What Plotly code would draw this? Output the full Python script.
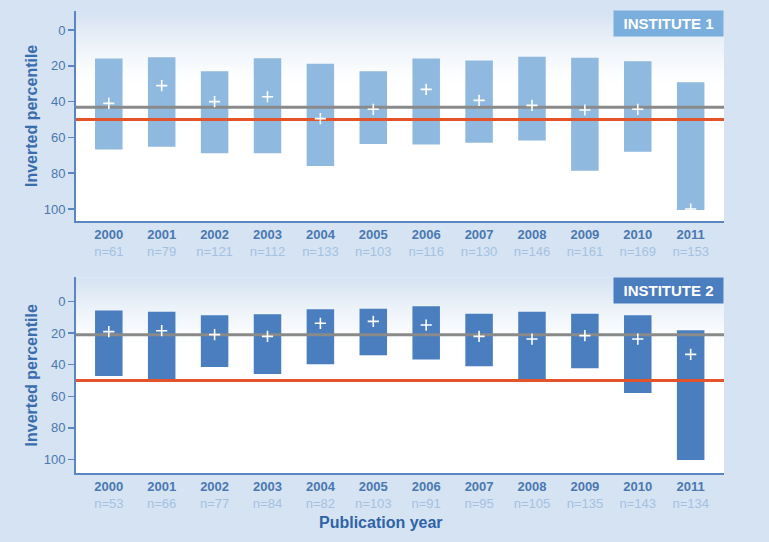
import plotly.graph_objects as go

years = ["2000", "2001", "2002", "2003", "2004", "2005", "2006", "2007", "2008", "2009", "2010", "2011"]

# Institute 1
n1 = [61, 79, 121, 112, 133, 103, 116, 130, 146, 161, 169, 153]
top1 = [16.0, 15.3, 23.1, 15.8, 18.8, 23.1, 16.0, 17.0, 14.9, 15.5, 17.5, 29.2]
bottom1 = [66.7, 65.2, 68.9, 68.9, 76.0, 63.7, 64.0, 63.0, 61.8, 78.6, 68.0, 100.6]
mean1 = [41.0, 31.1, 40.0, 37.3, 49.5, 44.3, 33.2, 39.3, 42.1, 44.7, 44.3, 100.0]
overall1 = 43.2

# Institute 2
n2 = [53, 66, 77, 84, 82, 103, 91, 95, 105, 135, 143, 134]
top2 = [5.5, 6.3, 8.6, 8.0, 4.8, 4.4, 2.9, 7.6, 6.3, 7.6, 8.6, 18.1]
bottom2 = [47.1, 49.3, 41.4, 45.9, 39.7, 34.0, 36.6, 41.0, 49.0, 42.3, 57.9, 100.4]
mean2 = [19.0, 18.4, 20.9, 22.0, 13.7, 12.5, 14.8, 22.0, 23.7, 21.5, 23.7, 33.4]
overall2 = 20.9

reference = 50
yticks = [0, 20, 40, 60, 80, 100]

W, H = 769, 542
FONT = "Liberation Sans, Arial, sans-serif"
AXIS_COLOR = "#5a86c2"
TICK_COLOR = "#4a78b3"
N_COLOR = "#a3c2e3"
GREY = "#8a8a8a"
RED = "#e5532b"

def px(x):
    return x / W

def py(y):
    return 1 - y / H

fig = go.Figure()

panels = [
    dict(xa="x", ya="y", top=top1, bottom=bottom1, mean=mean1, n=n1, overall=overall1,
         color="#8fb9df", label="INSTITUTE 1", labcolor="#7aaedc",
         dom=(py(221), py(11)), rng=[106.7, -10.6], ytop=11, ybot=221),
    dict(xa="x2", ya="y2", top=top2, bottom=bottom2, mean=mean2, n=n2, overall=overall2,
         color="#4a7ebf", label="INSTITUTE 2", labcolor="#4a7ebf",
         dom=(py(473.3), py(277.3)), rng=[108.9, -15.5], ytop=277.5, ybot=473.3),
]

xidx = list(range(len(years)))

for i, p in enumerate(panels):
    heights = [b - t for t, b in zip(p["top"], p["bottom"])]
    # reference lines
    fig.add_trace(go.Scatter(
        x=[-0.62, 11.63], y=[p["overall"]] * 2, mode="lines",
        line=dict(color=GREY, width=3), xaxis=p["xa"], yaxis=p["ya"],
        showlegend=False, hoverinfo="skip"))
    fig.add_trace(go.Scatter(
        x=[-0.62, 11.63], y=[reference] * 2, mode="lines",
        line=dict(color=RED, width=3), xaxis=p["xa"], yaxis=p["ya"],
        showlegend=False, hoverinfo="skip"))
    fig.add_trace(go.Bar(
        x=xidx, y=heights, base=p["top"], width=0.52,
        marker=dict(color=p["color"], line=dict(width=0)),
        xaxis=p["xa"], yaxis=p["ya"], showlegend=False, hoverinfo="skip"))
    fig.add_trace(go.Scatter(
        x=xidx, y=p["mean"], mode="markers",
        marker=dict(symbol="cross-thin", size=8, line=dict(color="white", width=1.6)),
        xaxis=p["xa"], yaxis=p["ya"], showlegend=False, hoverinfo="skip"))

    ticktext = [f"<b>{yr}</b><br><span style='color:{N_COLOR}'>n={n}</span>" for yr, n in zip(years, p["n"])]
    suffix = "" if i == 0 else "2"
    fig.layout["xaxis" + suffix] = dict(
        domain=[px(76), px(724)], range=[-0.62, 11.63], anchor="y" + suffix,
        tickmode="array", tickvals=xidx, ticktext=ticktext,
        tickfont=dict(family=FONT, size=13, color=TICK_COLOR),
        showline=True, linecolor=AXIS_COLOR, linewidth=2, ticks="",
        showgrid=False, zeroline=False, fixedrange=True)
    fig.layout["yaxis" + suffix] = dict(
        domain=list(p["dom"]), range=p["rng"], anchor="x" + suffix,
        tickmode="array", tickvals=yticks,
        tickfont=dict(family=FONT, size=13, color=TICK_COLOR),
        showline=True, linecolor=AXIS_COLOR, linewidth=2,
        ticks="outside", ticklen=6, tickwidth=1.5, tickcolor=AXIS_COLOR,
        showgrid=False, zeroline=False, fixedrange=True)

    # gradient at top of plot area (overlapping strips to avoid seams)
    nstrip = 30
    frac = 0.35
    c0 = (214, 227, 242)
    for k in range(nstrip):
        t = k / nstrip
        a = (1 - t) ** 1.3
        col = tuple(round(255 - (255 - c) * a) for c in c0)
        fig.add_shape(type="rect", xref=p["xa"] + " domain", yref=p["ya"] + " domain",
                      x0=0, x1=1, y0=1 - frac * (k + 1) / nstrip - 0.006,
                      y1=1 - frac * k / nstrip,
                      fillcolor=f"rgb{col}", line=dict(width=0), layer="below")

    # institute label
    fig.add_annotation(
        xref="paper", yref="paper", x=px(724), y=py(p["ytop"] - 1),
        xanchor="right", yanchor="top", text=f"<b>{p['label']}</b>",
        showarrow=False, bgcolor=p["labcolor"], width=105, height=21, borderpad=2,
        font=dict(family=FONT, size=15, color="white"))
    # y title
    mid = (p["ytop"] + p["ybot"]) / 2
    fig.add_annotation(
        xref="paper", yref="paper", x=px(31), y=py(mid), xanchor="center", yanchor="middle",
        text="<b>Inverted percentile</b>", textangle=-90, showarrow=False,
        font=dict(family=FONT, size=16, color="#3a6db0"))

fig.add_annotation(
    xref="paper", yref="paper", x=px(381), y=py(522), xanchor="center", yanchor="middle",
    text="<b>Publication year</b>", showarrow=False,
    font=dict(family=FONT, size=16, color="#2e63a8"))

fig.update_layout(
    width=W, height=H, margin=dict(l=0, r=0, t=0, b=0),
    paper_bgcolor="#d6e3f2", plot_bgcolor="white",
    barmode="overlay", showlegend=False,
)

fig.write_html("out.html", config={"displayModeBar": False, "staticPlot": True},
               post_script="document.body.style.margin='0';document.body.style.overflow='hidden';")
